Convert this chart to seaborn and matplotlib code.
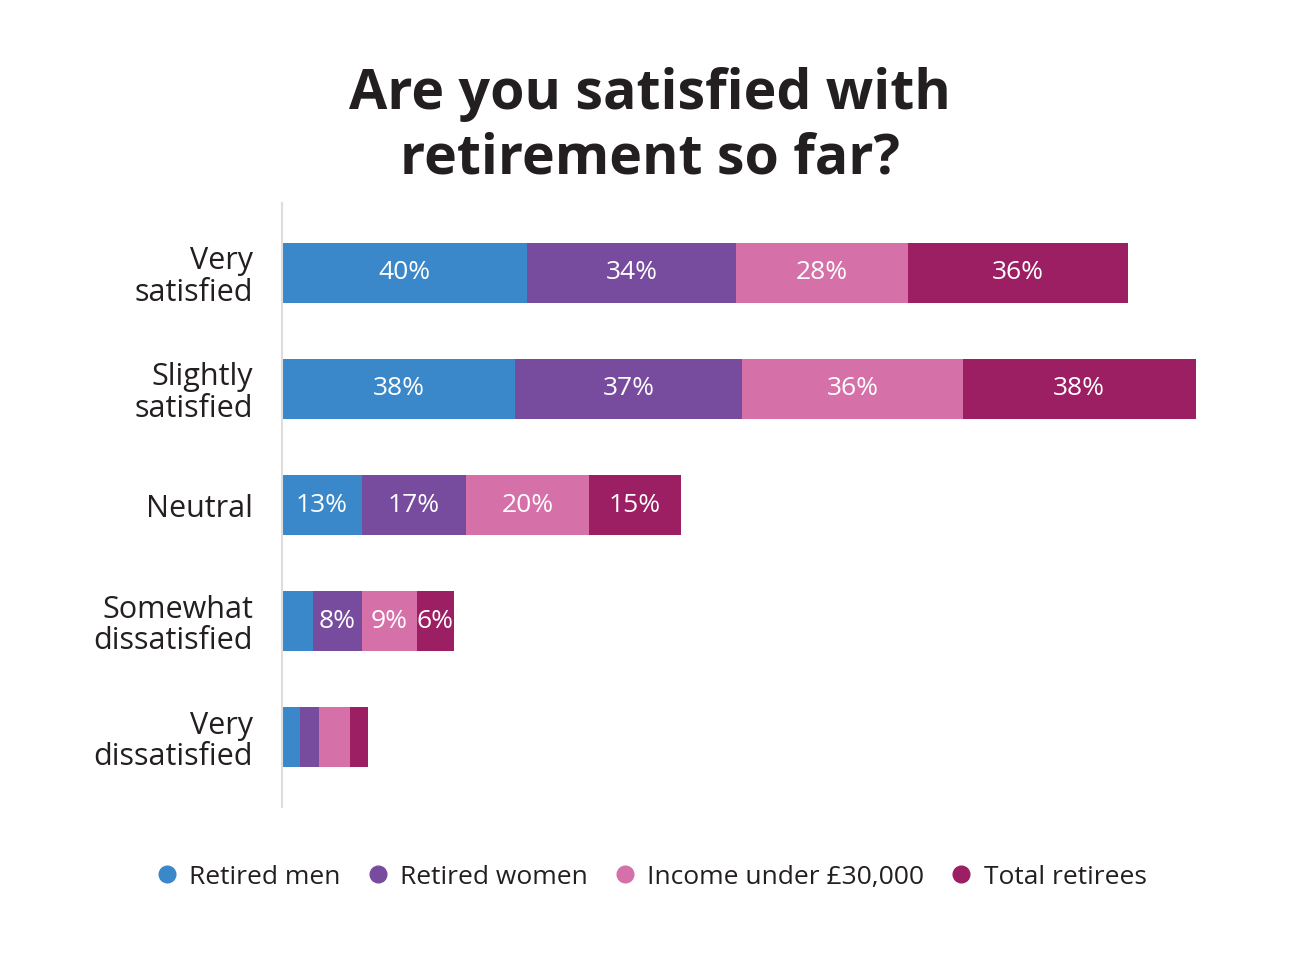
import matplotlib
matplotlib.use("Agg")
import matplotlib.pyplot as plt
from matplotlib.lines import Line2D
import seaborn as sns
import pandas as pd
import numpy as np

categories = ["Very\nsatisfied", "Slightly\nsatisfied", "Neutral", "Somewhat\ndissatisfied", "Very\ndissatisfied"]
series_names = ["Retired men", "Retired women", "Income under £30,000", "Total retirees"]
retired_men = [40, 38, 13, 5, 3]
retired_women = [34, 37, 17, 8, 3]
income_under_30k = [28, 36, 20, 9, 5]
total_retirees = [36, 38, 15, 6, 3]
colors = ["#3a88c9", "#774c9e", "#d670a9", "#9c1f63"]

sns.set_theme(style="white")
plt.rcParams['font.family'] = ['Open Sans', 'DejaVu Sans']

series = [retired_men, retired_women, income_under_30k, total_retirees]
arr = np.array(series, dtype=float)
cum = np.cumsum(arr, axis=0)

fig = plt.figure(figsize=(13, 9.75), dpi=100)
ax = fig.add_axes([0.217, 0.1723, 0.7075, 0.6195])

# stacked bars: draw cumulative totals from largest to smallest
for i in range(len(series) - 1, -1, -1):
    df = pd.DataFrame({"cat": categories, "val": cum[i]})
    sns.barplot(data=df, y="cat", x="val", orient="h", color=colors[i],
                saturation=1, width=0.517, ax=ax, edgecolor="none", linewidth=0)

# labels
for i in range(len(series)):
    for j, cat in enumerate(categories):
        v = arr[i, j]
        if v >= 6:
            center = cum[i, j] - v / 2
            ax.text(center, j, f"{int(v)}%", ha="center", va="center",
                    color="white", fontsize=19)

ax.set_xlim(0, 150)
ax.set_ylim(4.603, -0.603)
ax.set_xlabel("")
ax.set_ylabel("")
ax.set_xticks([])
for s in ["top", "right", "bottom"]:
    ax.spines[s].set_visible(False)
ax.spines["left"].set_color("#dddddd")
ax.spines["left"].set_linewidth(1.5)
ax.tick_params(axis="y", length=0, pad=21)
for lbl in ax.get_yticklabels():
    lbl.set_fontsize(22)
    lbl.set_color("#231f20")
    lbl.set_ha("right")
    lbl.set_linespacing(1.05)

fig.text(0.5, 0.870, "Are you satisfied with\nretirement so far?", ha="center", va="center",
         fontsize=40, fontweight="bold", color="#231f20", linespacing=1.22)

handles = [Line2D([0], [0], marker="o", linestyle="none", markersize=12,
                  markerfacecolor=c, markeredgecolor=c) for c in colors]
fig.legend(handles, series_names, loc="center", bbox_to_anchor=(0.5, 0.1005), ncol=4,
           frameon=False, fontsize=19, handletextpad=0.35, columnspacing=0.9,
           labelcolor="#231f20", handlelength=1.0)

fig.savefig("out.png", dpi=100, facecolor="white")
